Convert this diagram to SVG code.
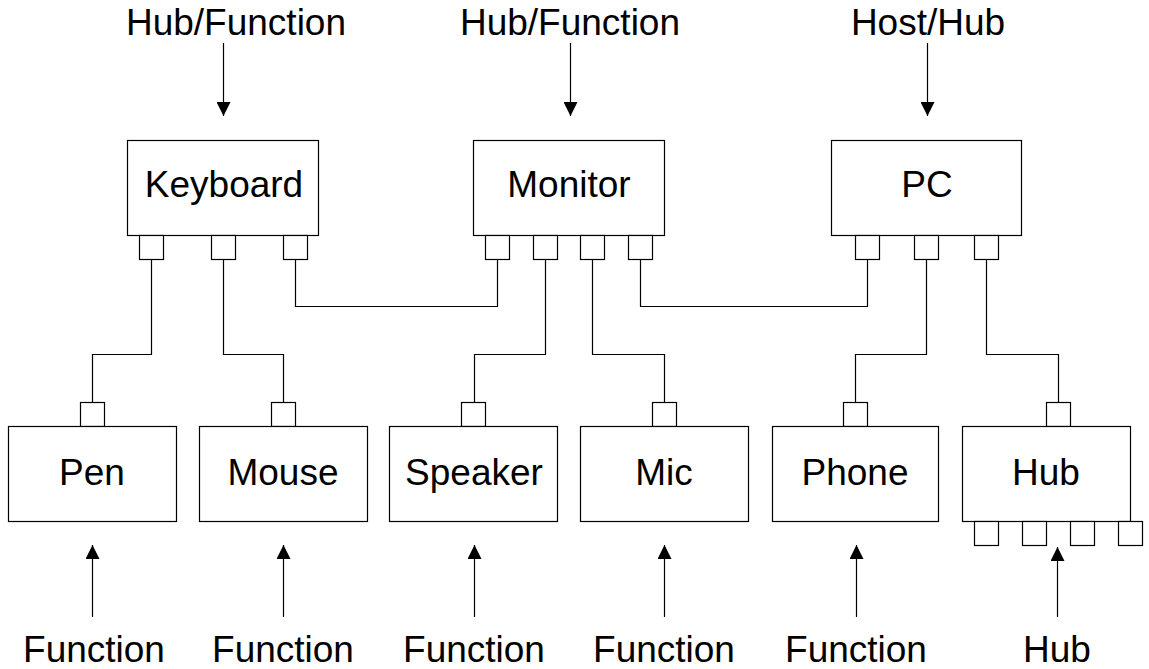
<svg xmlns="http://www.w3.org/2000/svg" width="1149" height="669" viewBox="0 0 1149 669">
<defs>
<style>
.box{fill:#fff;stroke:#000;stroke-width:1.2}
.port{fill:#fff;stroke:#000;stroke-width:1.2}
.lbl{font-family:"Liberation Sans",Arial,sans-serif;font-size:37px;fill:#000;text-anchor:middle}
.wire{fill:none;stroke:#000;stroke-width:1.2}
.arr{fill:none;stroke:#000;stroke-width:1.2}
</style>
<marker id="ah" viewBox="0 0 14 14" refX="14" refY="7" markerWidth="14" markerHeight="14" markerUnits="userSpaceOnUse" orient="auto">
<path d="M0,0 L14,7 L0,14 Z" fill="#000"/>
</marker>
</defs>
<rect width="1149" height="669" fill="#fff"/>

<g id="connectors">
<path class="wire" d="M151.5,259 V354.5 H92.5 V402"/>
<path class="wire" d="M223.5,259 V354.5 H283.5 V402"/>
<path class="wire" d="M295.5,259 V306.5 H497.5 V259"/>
<path class="wire" d="M545.5,259 V354.5 H474.5 V402"/>
<path class="wire" d="M592.5,259 V354.5 H664.5 V402"/>
<path class="wire" d="M640.5,259 V306.5 H867.5 V259"/>
<path class="wire" d="M926.5,259 V354.5 H855.5 V402"/>
<path class="wire" d="M986.5,259 V354.5 H1058.5 V402"/>
<line class="arr" x1="223.5" y1="43" x2="223.5" y2="116" marker-end="url(#ah)"/>
<line class="arr" x1="570.5" y1="43" x2="570.5" y2="116" marker-end="url(#ah)"/>
<line class="arr" x1="927.5" y1="43" x2="927.5" y2="116" marker-end="url(#ah)"/>
<line class="arr" x1="92.5" y1="617" x2="92.5" y2="545" marker-end="url(#ah)"/>
<line class="arr" x1="283.5" y1="617" x2="283.5" y2="545" marker-end="url(#ah)"/>
<line class="arr" x1="474.5" y1="617" x2="474.5" y2="545" marker-end="url(#ah)"/>
<line class="arr" x1="664.5" y1="617" x2="664.5" y2="545" marker-end="url(#ah)"/>
<line class="arr" x1="856.5" y1="617" x2="856.5" y2="545" marker-end="url(#ah)"/>
<line class="arr" x1="1057.5" y1="617" x2="1057.5" y2="547" marker-end="url(#ah)"/>
</g>

<g id="keyboard">
<rect class="box" x="127.5" y="140.5" width="191" height="95"/>
<rect class="port" x="139.5" y="235.5" width="24" height="24"/>
<rect class="port" x="211.5" y="235.5" width="24" height="24"/>
<rect class="port" x="283.5" y="235.5" width="24" height="24"/>
<text class="lbl" x="224" y="197">Keyboard</text>
</g>
<g id="monitor">
<rect class="box" x="473.5" y="140.5" width="191" height="95"/>
<rect class="port" x="485.5" y="235.5" width="24" height="24"/>
<rect class="port" x="533.5" y="235.5" width="24" height="24"/>
<rect class="port" x="580.5" y="235.5" width="24" height="24"/>
<rect class="port" x="628.5" y="235.5" width="24" height="24"/>
<text class="lbl" x="569" y="197">Monitor</text>
</g>
<g id="pc">
<rect class="box" x="831.5" y="140.5" width="190" height="95"/>
<rect class="port" x="855.5" y="235.5" width="24" height="24"/>
<rect class="port" x="914.5" y="235.5" width="24" height="24"/>
<rect class="port" x="974.5" y="235.5" width="24" height="24"/>
<text class="lbl" x="927" y="197">PC</text>
</g>

<g id="pen">
<rect class="port" x="80.5" y="402.5" width="24" height="24"/>
<rect class="box" x="8.5" y="426.5" width="168" height="95"/>
<text class="lbl" x="92" y="485">Pen</text>
</g>
<g id="mouse">
<rect class="port" x="271.5" y="402.5" width="24" height="24"/>
<rect class="box" x="199.5" y="426.5" width="168" height="95"/>
<text class="lbl" x="283" y="485">Mouse</text>
</g>
<g id="speaker">
<rect class="port" x="461.5" y="402.5" width="24" height="24"/>
<rect class="box" x="389.5" y="426.5" width="168" height="95"/>
<text class="lbl" x="474" y="485">Speaker</text>
</g>
<g id="mic">
<rect class="port" x="652.5" y="402.5" width="24" height="24"/>
<rect class="box" x="580.5" y="426.5" width="168" height="95"/>
<text class="lbl" x="664" y="485">Mic</text>
</g>
<g id="phone">
<rect class="port" x="843.5" y="402.5" width="24" height="24"/>
<rect class="box" x="772.5" y="426.5" width="166" height="95"/>
<text class="lbl" x="855" y="485">Phone</text>
</g>
<g id="hub">
<rect class="port" x="1046.5" y="402.5" width="24" height="24"/>
<rect class="box" x="962.5" y="426.5" width="168" height="95"/>
<rect class="port" x="974.5" y="521.5" width="24" height="24"/>
<rect class="port" x="1022.5" y="521.5" width="24" height="24"/>
<rect class="port" x="1070.5" y="521.5" width="24" height="24"/>
<rect class="port" x="1118.5" y="521.5" width="24" height="24"/>
<text class="lbl" x="1046" y="485">Hub</text>
</g>

<g id="labels">
<text class="lbl" x="236" y="35">Hub/Function</text>
<text class="lbl" x="570" y="35">Hub/Function</text>
<text class="lbl" x="928" y="35">Host/Hub</text>
<text class="lbl" x="94" y="662">Function</text>
<text class="lbl" x="283" y="662">Function</text>
<text class="lbl" x="474" y="662">Function</text>
<text class="lbl" x="664" y="662">Function</text>
<text class="lbl" x="856" y="662">Function</text>
<text class="lbl" x="1057" y="662">Hub</text>
</g>
</svg>
